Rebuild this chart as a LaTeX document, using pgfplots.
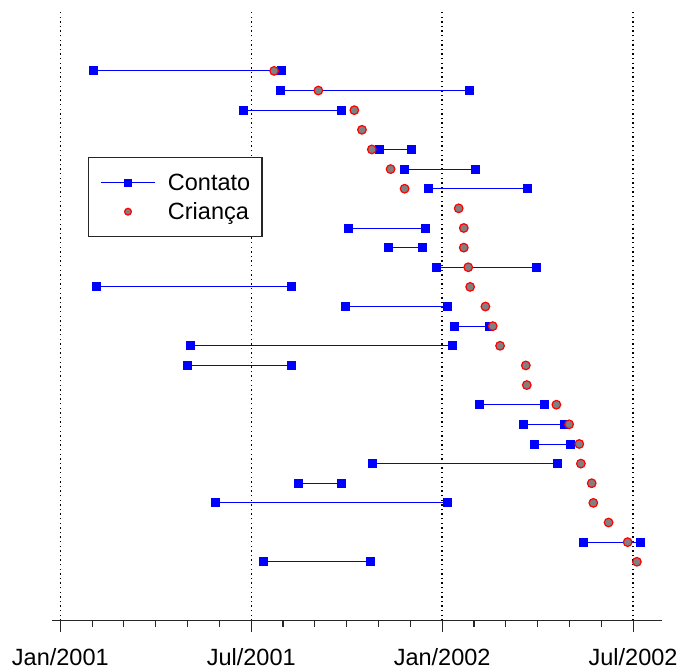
\documentclass[border=0pt]{standalone}
\usepackage{fontspec}
\setmainfont{Liberation Sans}
\usepackage{pgfplots}
\pgfplotsset{compat=1.18}
\definecolor{markgray}{RGB}{128,128,128}
\begin{document}
\begin{tikzpicture}
\begin{axis}[
  at={(0pt,0pt)}, anchor=south west,
  scale only axis,
  width=610pt, height=608.7pt,
  xmin=-0.261, xmax=18.909,
  ymin=-2, ymax=29,
  axis x line=bottom,
  axis y line=none,
  axis line style={-, black!85, line width=1.2pt},
  xtick={0,6,12,18},
  xticklabels={Jan/2001,Jul/2001,Jan/2002,Jul/2002},
  minor x tick num=5,
  xtick align=outside,
  major tick length=11.5pt,
  minor tick length=6pt,
  tick style={black!85, line width=1.1pt},
  xmajorgrids,
  major grid style={black, line width=1.4pt, dash pattern=on 1.4pt off 3.2pt},
  tick label style={font=\fontsize{23.5}{27}\selectfont},
  xticklabel style={yshift=-13pt},
  clip=false,
  unbounded coords=jump,
  legend style={at={(axis cs:0.88,21.6)}, anchor=north west,
    draw=black!85, line width=1.1pt, fill=white,
    inner xsep=11.7pt, inner ysep=12pt, row sep=3.3pt,
    font=\fontsize{23.5}{27}\selectfont,
    nodes={inner sep=0pt, text height=20.8pt, text depth=4.9pt},
    /tikz/every odd column/.append style={column sep=12.5pt}},
  legend cell align=left,
  legend image code/.code={\draw[mark repeat=2,mark phase=2,#1] plot coordinates {(0pt,0pt) (27pt,0pt) (54pt,0pt)};},
]
\addplot[blue, line width=0.9pt, mark=square*, mark size=4pt, mark options={blue, solid},
  legend image post style={mark size=3.3pt}] coordinates {
(1.05,26) (6.96,26) (nan,nan)
(6.93,25) (12.85,25) (nan,nan)
(5.75,24) (8.82,24) (nan,nan)
(10.03,22) (11.05,22) (nan,nan)
(10.83,21) (13.05,21) (nan,nan)
(11.56,20) (14.67,20) (nan,nan)
(9.05,18) (11.49,18) (nan,nan)
(10.30,17) (11.39,17) (nan,nan)
(11.83,16) (14.97,16) (nan,nan)
(1.14,15) (7.25,15) (nan,nan)
(8.96,14) (12.18,14) (nan,nan)
(12.39,13) (13.50,13) (nan,nan)
(4.09,12) (12.32,12) (nan,nan)
(4.01,11) (7.25,11) (nan,nan)
(13.16,9) (15.20,9) (nan,nan)
(14.56,8) (15.84,8) (nan,nan)
(14.90,7) (16.03,7) (nan,nan)
(9.80,6) (15.63,6) (nan,nan)
(7.49,5) (8.82,5) (nan,nan)
(4.88,4) (12.18,4) (nan,nan)
(16.43,2) (18.23,2) (nan,nan)
(6.39,1) (9.76,1)
};
\addlegendentry{Contato}
\addplot[only marks, mark=*, mark size=4.3pt, mark options={draw=red, fill=markgray, line width=1.2pt},
  legend image post style={mark size=3.4pt}] coordinates {
(6.72,26) (8.11,25) (9.24,24) (9.48,23) (9.79,22) (10.38,21) (10.82,20)
(12.52,19) (12.68,18) (12.68,17) (12.82,16) (12.88,15) (13.36,14) (13.59,13)
(13.82,12) (14.63,11) (14.66,10) (15.59,9) (15.99,8) (16.31,7) (16.36,6)
(16.70,5) (16.75,4) (17.23,3) (17.83,2) (18.12,1)
};
\addlegendentry{Criança}
\end{axis}
\pgfresetboundingbox
\path[use as bounding box] (-52pt,-50.3pt) rectangle (629pt,620.7pt);
\end{tikzpicture}
\end{document}
